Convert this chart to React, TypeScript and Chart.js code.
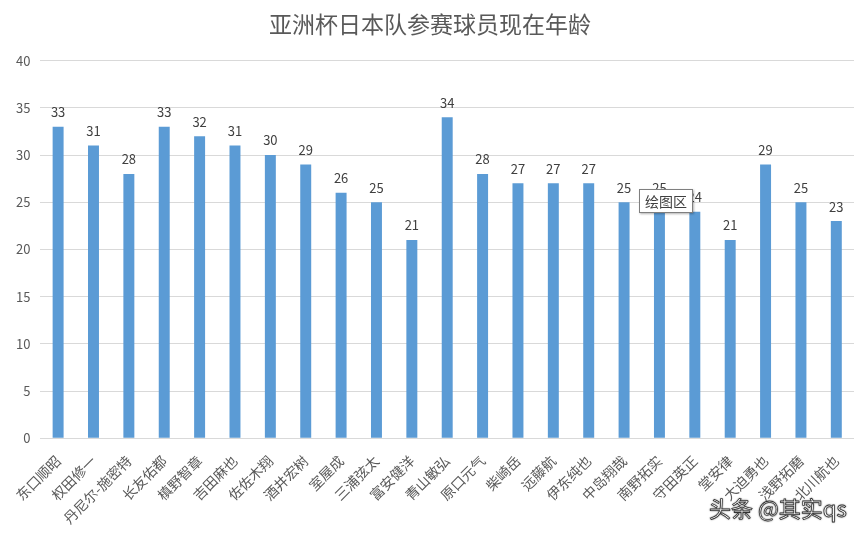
import React, { useEffect, useRef } from "react";
import { Chart, registerables } from "chart.js";

Chart.register(...registerables);

const title = "亚洲杯日本队参赛球员现在年龄";
const players = [
  "东口顺昭", "权田修一", "丹尼尔-施密特", "长友佑都", "槙野智章", "吉田麻也",
  "佐佐木翔", "酒井宏树", "室屋成", "三浦弦太", "富安健洋", "青山敏弘",
  "原口元气", "柴崎岳", "远藤航", "伊东纯也", "中岛翔哉", "南野拓实",
  "守田英正", "堂安律", "大迫勇也", "浅野拓磨", "北川航也",
];
const ages = [33, 31, 28, 33, 32, 31, 30, 29, 26, 25, 21, 34, 28, 27, 27, 27, 25, 25, 24, 21, 29, 25, 23];
const yTicks = [0, 5, 10, 15, 20, 25, 30, 35, 40];

const FONT = "'Noto Sans CJK SC', 'Noto Sans', sans-serif";
const TEXT = "#595959";

const labelPlugin = {
  id: "barLabels",
  afterDatasetsDraw(chart: any) {
    const ctx = chart.ctx;
    const meta = chart.getDatasetMeta(0);
    const data = chart.data.datasets[0].data;
    ctx.save();
    ctx.font = `13px ${FONT}`;
    ctx.fillStyle = "#404040";
    ctx.textAlign = "center";
    ctx.textBaseline = "bottom";
    meta.data.forEach((bar: any, i: number) => {
      ctx.fillText(String(data[i]), bar.x, bar.y - 8);
    });
    ctx.restore();
  },
};

export default function App() {
  const ref = useRef<HTMLCanvasElement>(null);
  useEffect(() => {
    document.body.style.margin = "0";
    const chart = new Chart(ref.current!, {
      type: "bar",
      data: {
        labels: players,
        datasets: [
          {
            data: ages,
            backgroundColor: "#5b9bd5",
            categoryPercentage: 1,
            barPercentage: 0.31,
          },
        ],
      },
      options: {
        responsive: false,
        animation: false,
        layout: { padding: { left: 6, right: 13, top: 0, bottom: 0 } },
        plugins: {
          legend: { display: false },
          tooltip: { enabled: false },
          title: {
            display: true,
            text: title,
            color: TEXT,
            font: { family: FONT, size: 23, weight: "normal" },
            padding: { top: 10, bottom: 23 },
          },
        },
        scales: {
          x: {
            grid: { display: false },
            border: { display: false },
            ticks: {
              color: TEXT,
              font: { family: FONT, size: 14 },
              maxRotation: 45,
              minRotation: 45,
              autoSkip: false,
              padding: 6,
            },
          },
          y: {
            min: 0,
            max: 40,
            afterBuildTicks: (axis: any) => {
              axis.ticks = yTicks.map((v) => ({ value: v }));
            },
            grid: { color: "#d9d9d9", drawTicks: false },
            border: { display: false },
            ticks: {
              color: TEXT,
              font: { family: FONT, size: 13 },
              padding: 10,
            },
          },
        },
      },
      plugins: [labelPlugin],
    });
    return () => chart.destroy();
  }, []);
  return (
    <div style={{ position: "relative", width: 867, height: 533, background: "#fff" }}>
      <canvas ref={ref} width={867} height={533} />
      <div
        style={{
          position: "absolute",
          left: 639,
          top: 189,
          padding: "1px 5px",
          border: "1px solid #7f7f7f",
          background: "#fff",
          fontFamily: FONT,
          fontSize: 14,
          color: "#404040",
          boxShadow: "1px 1px 2px rgba(0,0,0,0.3)",
        }}
      >
        绘图区
      </div>
      <div
        style={{
          position: "absolute",
          left: 709,
          top: 491,
          fontFamily: FONT,
          fontSize: 22,
          color: "#fff",
          WebkitTextStroke: "0.8px #333",
          textShadow: "0 0 2px #000",
        }}
      >
        头条 @其实qs
      </div>
    </div>
  );
}
